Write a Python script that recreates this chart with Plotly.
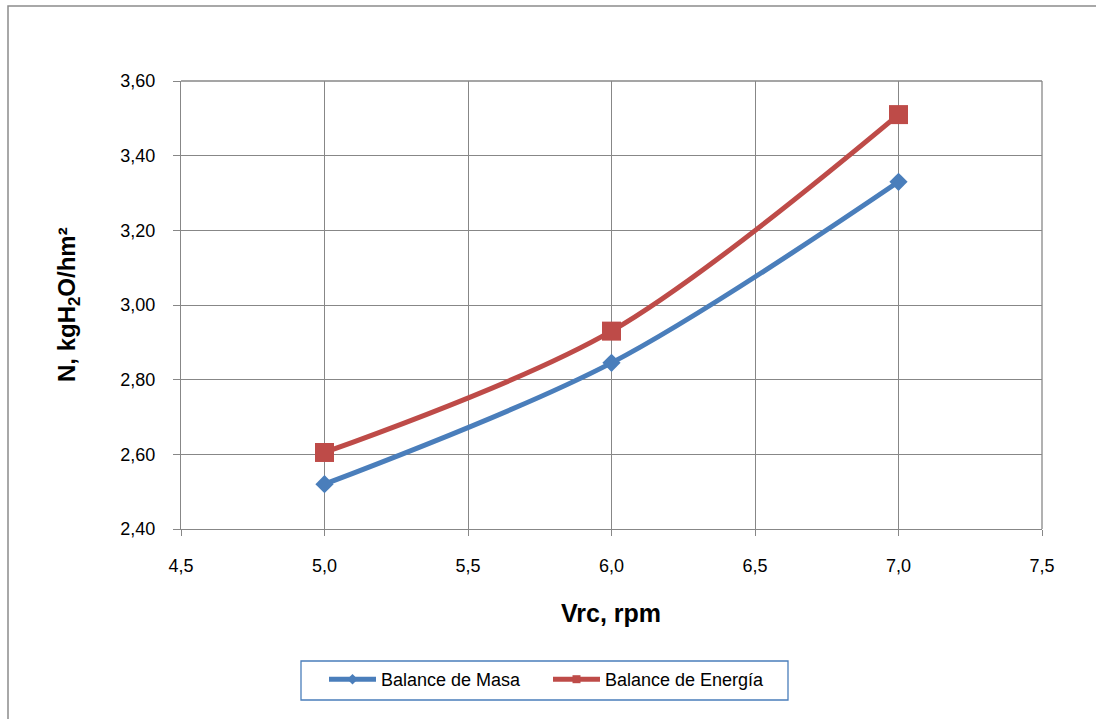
import plotly.graph_objects as go

# Rotational speed of the rotating cylinder (rpm)
vrc = [5.0, 6.0, 7.0]
# Drying rate N (kgH2O/h·m²) from each balance
n_masa = [2.52, 2.845, 3.33]
n_energia = [2.605, 2.93, 3.51]

serie_nombres = ["Balance de Masa", "Balance de Energía"]
colores = ["#4A7EBB", "#BE4B48"]
simbolos = ["diamond", "square"]
tamanos = [14, 19]

FONT = "Liberation Sans, Arial, sans-serif"
GRID = "#878787"

# plot-area pixel box inside the 1096x719 canvas
W, H = 1096, 719
L, R, T, B = 181, 54, 81, 190
pw, ph = W - L - R, H - T - B

def px_x(x):
    return (x - L) / pw

def px_y(y):
    return (H - B - y) / ph

fig = go.Figure()

for nombre, ys, color, sym, size in zip(serie_nombres, [n_masa, n_energia], colores, simbolos, tamanos):
    fig.add_trace(go.Scatter(
        x=vrc, y=ys, mode="lines+markers", name=nombre, showlegend=False,
        line=dict(color=color, width=5, shape="spline", smoothing=0.9),
        marker=dict(symbol=sym, size=size, color=color),
        legendgroup=nombre,
    ))
    # legend entry with a small marker
    fig.add_trace(go.Scatter(
        x=[None], y=[None], mode="lines+markers", name=nombre,
        line=dict(color=color, width=5),
        marker=dict(symbol=sym, size=8, color=color),
        legendgroup=nombre,
    ))

fig.update_layout(
    width=W, height=H,
    margin=dict(l=L, r=R, t=T, b=B, autoexpand=False),
    paper_bgcolor="white", plot_bgcolor="white",
    separators=",.",
    font=dict(family=FONT, size=18, color="#000000"),
    xaxis=dict(
        range=[4.5, 7.5], dtick=0.5, tick0=4.5, tickformat=".1f",
        showgrid=True, gridcolor=GRID, gridwidth=1.3,
        showline=True, linecolor=GRID, linewidth=1.3,
        ticks="outside", ticklen=6, tickcolor=GRID, tickwidth=1.3,
        ticklabelstandoff=14, zeroline=False,
        tickfont=dict(size=18, family=FONT),
    ),
    yaxis=dict(
        range=[2.4, 3.6], dtick=0.2, tick0=2.4, tickformat=".2f",
        showgrid=True, gridcolor=GRID, gridwidth=1.3,
        showline=True, linecolor=GRID, linewidth=1.3, mirror=False,
        ticks="outside", ticklen=7, tickcolor=GRID, tickwidth=1.3,
        ticklabelstandoff=14, zeroline=False,
        tickfont=dict(size=18, family=FONT),
    ),
    legend=dict(
        orientation="h", x=px_x(324), xanchor="left",
        y=px_y(661), yanchor="top",
        borderwidth=0, bgcolor="rgba(0,0,0,0)",
        font=dict(size=18, family=FONT), entrywidth=162,
        itemwidth=47,
    ),
    shapes=[
        # right and top frame of plot area
        dict(type="line", xref="paper", yref="paper", x0=1, x1=1, y0=0, y1=1,
             line=dict(color=GRID, width=1.3)),
        dict(type="line", xref="paper", yref="paper", x0=0, x1=1, y0=1, y1=1,
             line=dict(color=GRID, width=1.3)),
        # legend box
        dict(type="rect", xref="paper", yref="paper",
             x0=px_x(301), x1=px_x(788), y0=px_y(661), y1=px_y(700),
             line=dict(color="#4A7EBB", width=1.3)),
        # chart border
        dict(type="rect", xref="paper", yref="paper",
             x0=px_x(8), x1=px_x(W + 5), y0=px_y(6), y1=px_y(H + 5),
             line=dict(color="#8C8C8C", width=1.5)),
    ],
    annotations=[
        dict(text="<b>Vrc, rpm</b>", xref="paper", yref="paper",
             x=px_x(611), y=px_y(613), xanchor="center", yanchor="middle",
             showarrow=False, font=dict(size=25, family=FONT)),
        dict(text="<b>N, kgH<sub>2</sub>O/hm²</b>", xref="paper", yref="paper",
             x=px_x(68), y=px_y(305), xanchor="center", yanchor="middle",
             textangle=-90, showarrow=False, font=dict(size=24, family=FONT)),
    ],
)

fig.write_html("out.html")
